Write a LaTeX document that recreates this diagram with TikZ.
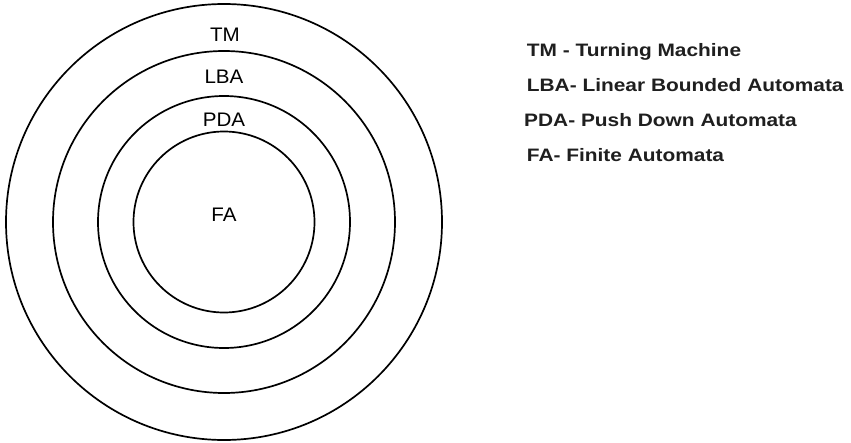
\documentclass[tikz,border=0pt]{standalone}
\usepackage{fontspec}
\setmainfont{Liberation Sans}
\newfontfamily\ringfont[FakeStretch=1.05]{Liberation Sans}
\newfontfamily\legendfont[FakeStretch=1.16]{Liberation Sans}
\tikzset{
  ring/.style={circle, draw=black, line width=1.7pt, inner sep=0pt},
  ringlabel/.style={anchor=base, inner sep=0pt, font=\ringfont\fontsize{19.6}{22}\selectfont},
  legendline/.style={anchor=base west, inner sep=0pt, text=black!88, font=\legendfont\bfseries\fontsize{18}{21}\selectfont}
}
\begin{document}
\begin{tikzpicture}[x=1pt, y=-1pt]
  \useasboundingbox[fill=white] (0,0) rectangle (851,442);

  % nested language classes
  \node[ring, minimum size=436pt] (tm)  at (224,222) {};
  \node[ring, minimum size=342pt] (lba) at (224,222) {};
  \node[ring, minimum size=252pt] (pda) at (224,222) {};
  \node[ring, minimum size=181pt] (fa)  at (224,222) {};

  % class names inside the rings
  \node[ringlabel] (tmlabel)  at (225,41) {TM};
  \node[ringlabel] (lbalabel) at (224,83.5) {LBA};
  \node[ringlabel] (pdalabel) at (224,126.5) {PDA};
  \node[ringlabel] (falabel)  at (224,221) {FA};

  % legend
  \node[legendline] (legtm)  at (526.7,56.5) {TM - Turning Machine};
  \node[legendline] (leglba) at (526.7,91.3) {LBA- Linear Bounded Automata};
  \node[legendline] (legpda) at (524,126.5) {PDA- Push Down Automata};
  \node[legendline] (legfa)  at (526.7,161.3) {FA- Finite Automata};
\end{tikzpicture}
\end{document}
